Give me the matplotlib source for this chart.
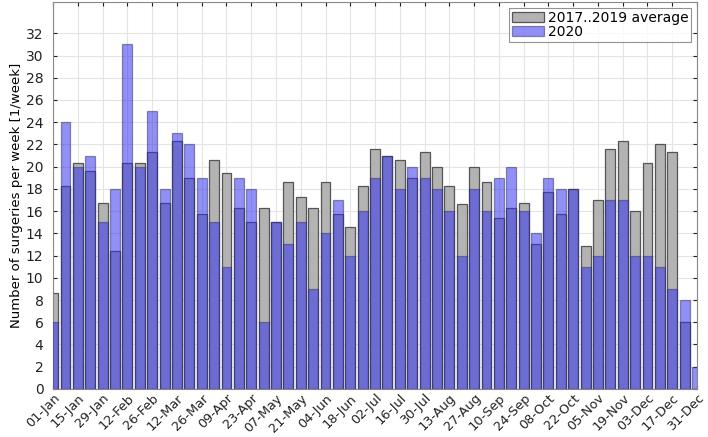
import numpy as np
import matplotlib
matplotlib.use('Agg')
import matplotlib.pyplot as plt

font = {'family': 'DejaVu Sans', 'size': 10}
matplotlib.rc('font', **font)

# weekly surgeries, 53 weeks starting 01-Jan
avg_2017_2019 = [8.6, 18.3, 20.3, 19.6, 16.7, 12.4, 20.3, 20.3, 21.3, 16.7,
                 22.3, 19.0, 15.7, 20.6, 19.4, 16.3, 15.0, 16.3, 15.0, 18.6,
                 17.3, 16.3, 18.6, 15.7, 14.6, 18.3, 21.6, 21.0, 20.6, 19.0,
                 21.3, 20.0, 18.3, 16.6, 20.0, 18.6, 15.4, 16.3, 16.7, 13.0,
                 17.7, 15.7, 18.0, 12.9, 17.0, 21.6, 22.3, 16.0, 20.3, 22.0,
                 21.3, 6.0, 0.0]
count_2020 = [6, 24, 20, 21, 15, 18, 31, 20, 25, 18,
              23, 22, 19, 15, 11, 19, 18, 6, 15, 13,
              15, 9, 14, 17, 12, 16, 19, 21, 18, 20,
              19, 18, 16, 12, 18, 16, 19, 20, 16, 14,
              19, 18, 18, 11, 12, 17, 17, 12, 12, 11,
              9, 8, 2]
tick_labels = ['01-Jan', '15-Jan', '29-Jan', '12-Feb', '26-Feb', '12-Mar',
               '26-Mar', '09-Apr', '23-Apr', '07-May', '21-May', '04-Jun',
               '18-Jun', '02-Jul', '16-Jul', '30-Jul', '13-Aug', '27-Aug',
               '10-Sep', '24-Sep', '08-Oct', '22-Oct', '05-Nov', '19-Nov',
               '03-Dec', '17-Dec', '31-Dec']

weeks = np.arange(len(count_2020))

fig = plt.figure(figsize=(7.08, 4.37), dpi=100)
ax = fig.add_axes([0.075, 0.11, 0.9095, 0.885])

ax.bar(weeks, avg_2017_2019, width=0.8, color='#b3b3b3', edgecolor='#555555',
       linewidth=0.9, label='2017..2019 average', zorder=2)
ax.bar(weeks, count_2020, width=0.8, color=(0.175, 0.175, 0.94), alpha=0.53,
       edgecolor='#333366', linewidth=0.9, label='2020', zorder=3)

ax.set_xlim(0, 52)
ax.set_ylim(0, 34.8)
ax.set_yticks(np.arange(0, 33, 2))
ax.set_xticks(np.arange(0, 53, 2))
ax.set_xticklabels(tick_labels, rotation=45, ha='right', rotation_mode='anchor')
ax.tick_params(axis='y', which='major', labelsize=10, colors='#222222',
               direction='in', right=True, length=3, pad=7)
ax.tick_params(axis='x', which='major', labelsize=9.3, colors='#222222',
               direction='in', top=True, length=3, pad=2)
ax.set_ylabel('Number of surgeries per week [1/week]', fontsize=9.5, labelpad=2)
ax.grid(True, color='#e4e4e4', linewidth=0.8, zorder=0)
ax.set_axisbelow(True)
for sp in ax.spines.values():
    sp.set_color('#888888')

leg = ax.legend(loc='upper right', fontsize=10, frameon=True, fancybox=False,
                borderpad=0.2, labelspacing=0.05, handlelength=2.3,
                handletextpad=0.3, borderaxespad=0.4)
leg.get_frame().set_edgecolor('#777777')
leg.get_frame().set_linewidth(0.8)

fig.savefig('out.png', dpi=100)
